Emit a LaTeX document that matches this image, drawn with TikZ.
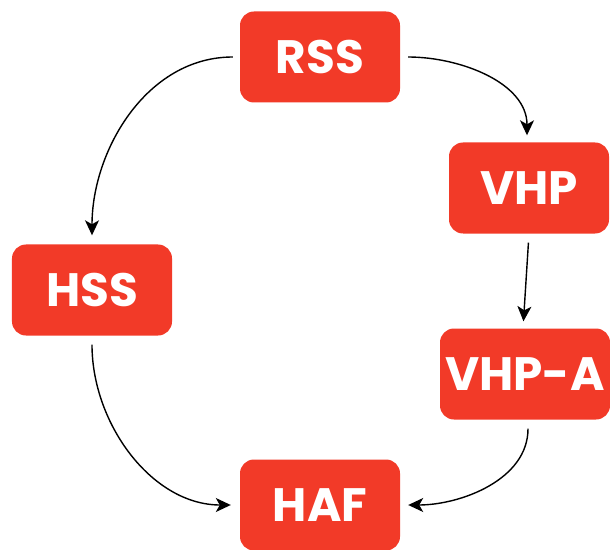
\documentclass[tikz,border=0pt]{standalone}
\usepackage{fontspec}
\setmainfont{Poppins}[UprightFont=* Bold, BoldFont=* Bold]
\usetikzlibrary{arrows.meta}
\definecolor{boxred}{HTML}{F23A28}

\begin{document}
\begin{tikzpicture}[x=1bp, y=-1bp,
  every node/.style={font=\fontsize{47}{50}\selectfont},
  unit/.style={fill=boxred, text=white, rounded corners=14bp, minimum width=160bp, minimum height=91bp, inner sep=0pt},
  link/.style={-{Stealth[length=15bp, width=14bp, inset=4bp]}, line width=1.4bp, black}]
\useasboundingbox (0,0) rectangle (610,550);
% Boxes
\node[unit] (rss) at (320,57) {RSS};
\node[unit] (vhp) at (529,188) {VHP};
\node[unit] (hss) at (92,290) {HSS};
\node[unit, minimum width=170bp] (vhpa) at (525,374) {VHP-A};
\node[unit] (haf) at (320,505) {HAF};

% Links
\draw[link, shorten <=7bp, shorten >=9bp] (rss.west) to[out=180, in=90] (hss.north);
\draw[link, shorten <=8bp, shorten >=7bp] (rss.east) to[out=0, in=90] ([xshift=-2bp]vhp.north);
\draw[link, shorten <=9bp, shorten >=7bp] (vhp.south) -- ([xshift=-2bp]vhpa.north);
\draw[link, shorten <=9bp, shorten >=9bp] (hss.south) to[out=270, in=180] (haf.west);
\draw[link, shorten <=9bp, shorten >=8bp] ([xshift=3bp]vhpa.south) to[out=270, in=0] (haf.east);
\end{tikzpicture}
\end{document}
